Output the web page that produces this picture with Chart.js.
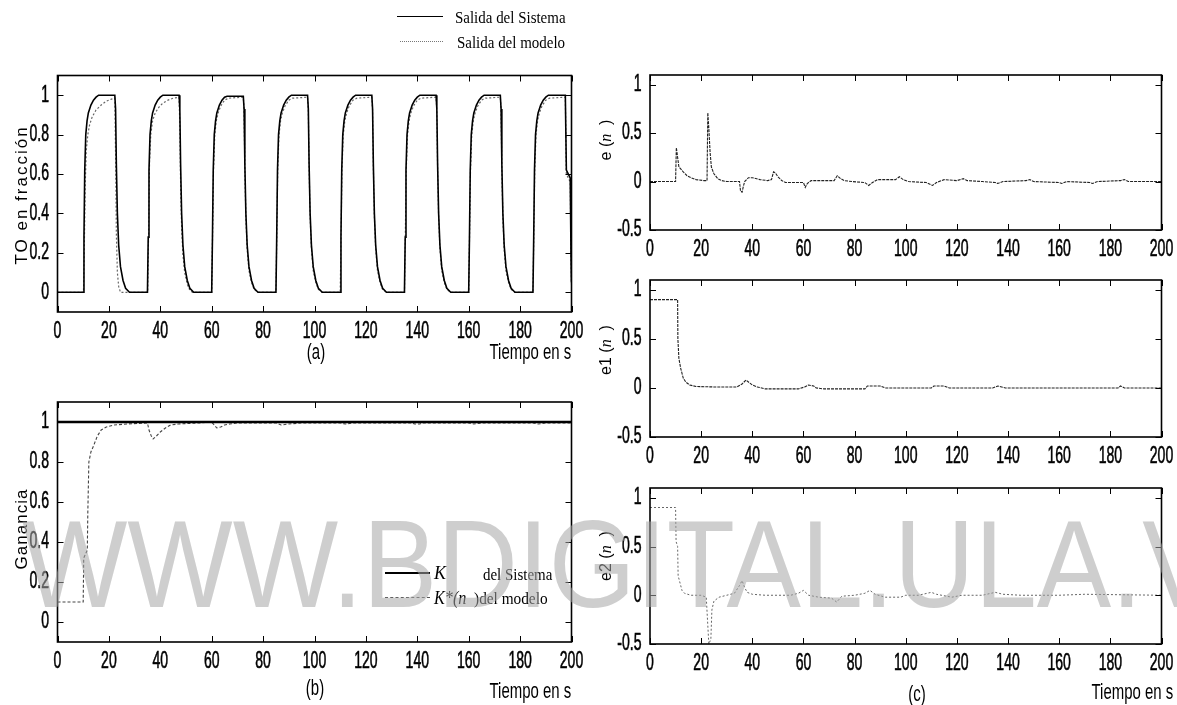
<!DOCTYPE html>
<html>
<head>
<meta charset="utf-8">
<script src="https://cdn.jsdelivr.net/npm/chart.js@4.4.1/dist/chart.umd.min.js"></script>
<style>
body { margin: 0; background: #fff; }
#page { position: relative; width: 1177px; height: 705px; overflow: hidden; background: #fff; font-family: "Liberation Sans", Arial, sans-serif; }
#page canvas { position: absolute; left: 0; top: 0; }
.txt { position: absolute; white-space: nowrap; line-height: 1; color: #000; }
.cap { font-size: 22px; }
.ser { font-family: "Liberation Serif", "Times New Roman", serif; font-size: 17px; }
.ytl { font-size: 17px; }
.etl { font-size: 16px; }
.etl i, .ser i { font-family: "Liberation Serif", "Times New Roman", serif; }
.ln { position: absolute; height: 0; }
#wm { position: absolute; left: 0; top: 0; pointer-events: none; }
</style>
</head>
<body>
<div id="page">
  <canvas id="chA" width="1177" height="705"></canvas>
  <canvas id="chB" width="1177" height="705"></canvas>
  <canvas id="chE" width="1177" height="705"></canvas>
  <canvas id="chE1" width="1177" height="705"></canvas>
  <canvas id="chE2" width="1177" height="705"></canvas>

  <!-- top legend -->
  <div class="ln" style="left:397px;top:16px;width:46px;border-top:1.6px solid #000"></div>
  <div class="txt ser" style="left:455px;top:17px;transform:translateY(-50%) scaleX(0.88);transform-origin:left center">Salida del Sistema</div>
  <div class="ln" style="left:400px;top:41px;width:43px;border-top:1.5px dotted #777"></div>
  <div class="txt ser" style="left:457px;top:42px;transform:translateY(-50%) scaleX(0.88);transform-origin:left center">Salida del modelo</div>

  <!-- axis titles -->
  <div class="txt ytl" style="left:21px;top:195px;letter-spacing:2px;transform:translate(-50%,-50%) rotate(-90deg)">TO en fracción</div>
  <div class="txt ytl" style="left:21px;top:529px;letter-spacing:1px;transform:translate(-50%,-50%) rotate(-90deg)">Ganancia</div>
  <div class="txt etl" style="left:606px;top:140px;transform:translate(-50%,-50%) rotate(-90deg)">e (<i>n</i> &nbsp;)</div>
  <div class="txt etl" style="left:606px;top:350px;transform:translate(-50%,-50%) rotate(-90deg)">e1 (<i>n</i> &nbsp;)</div>
  <div class="txt etl" style="left:606px;top:556px;transform:translate(-50%,-50%) rotate(-90deg)">e2 (<i>n</i> &nbsp;)</div>

  <!-- captions -->
  <div class="txt cap" style="left:316px;top:352px;transform:translate(-50%,-50%) scaleX(0.68)">(a)</div>
  <div class="txt cap" style="right:606px;top:352px;transform:translateY(-50%) scaleX(0.68);transform-origin:right center">Tiempo en s</div>
  <div class="txt cap" style="left:315px;top:688px;transform:translate(-50%,-50%) scaleX(0.68)">(b)</div>
  <div class="txt cap" style="right:606px;top:691px;transform:translateY(-50%) scaleX(0.68);transform-origin:right center">Tiempo en s</div>
  <div class="txt cap" style="left:917px;top:694px;transform:translate(-50%,-50%) scaleX(0.68)">(c)</div>
  <div class="txt cap" style="right:4px;top:692px;transform:translateY(-50%) scaleX(0.68);transform-origin:right center">Tiempo en s</div>

  <!-- legend of (b) -->
  <div class="ln" style="left:385px;top:572px;width:45px;border-top:2.5px solid #000"></div>
  <div class="txt ser" style="left:434px;top:573px;font-size:18px;transform:translateY(-50%)"><i>K</i></div>
  <div class="txt ser" style="left:483px;top:574px;transform:translateY(-50%) scaleX(0.88);transform-origin:left center">del Sistema</div>
  <div class="ln" style="left:385px;top:597px;width:45px;border-top:1.2px dashed #555"></div>
  <div class="txt ser" style="left:434px;top:598px;transform:translateY(-50%) scaleX(0.9);transform-origin:left center"><i style="font-size:18px">K*(n</i> &nbsp;)del modelo</div>

  <svg id="wm" width="1177" height="705"><text x="22" y="607" font-family="Liberation Sans, Arial, sans-serif" font-size="124" fill="rgb(165,165,165)" fill-opacity="0.55" textLength="1269" lengthAdjust="spacingAndGlyphs">WWW.BDIGITAL.ULA.VE</text></svg>
</div>

<script>
const W = 1177, H = 705;

const xTicks = [0, 20, 40, 60, 80, 100, 120, 140, 160, 180, 200];
const outTicks = [0, 0.2, 0.4, 0.6, 0.8, 1];
const errTicks = [-0.5, 0, 0.5, 1];

// (a) salida del sistema  [t, y]
const sysOut = [
  [0,0],[10,0],[10.3,0.28],[10.6,0.62],[11,0.8],[11.5,0.87],[12,0.91],[13,0.95],[14,0.975],[15,0.99],[16,1],
  [22.3,1],[22.6,0.93],[22.9,0.65],[23.3,0.4],[23.8,0.24],[24.5,0.13],[25.5,0.06],[26.5,0.02],[28,0],
  [35,0],[35.3,0.28],[35.6,0.62],[36,0.8],[36.5,0.87],[37,0.91],[38,0.95],[39,0.975],[40,0.99],[41,1],
  [47.3,1],[47.6,0.93],[47.9,0.65],[48.3,0.4],[48.8,0.24],[49.5,0.13],[50.5,0.06],[51.5,0.02],[53,0],
  [60,0],[60.3,0.28],[60.6,0.62],[61,0.8],[61.5,0.87],[62,0.91],[63,0.95],[64,0.975],[65,0.99],[66,0.995],
  [72.3,0.995],[72.6,0.93],[72.9,0.65],[73.3,0.4],[73.8,0.24],[74.5,0.13],[75.5,0.06],[76.5,0.02],[78,0],
  [85,0],[85.3,0.28],[85.6,0.62],[86,0.8],[86.5,0.87],[87,0.91],[88,0.95],[89,0.975],[90,0.99],[91,1],
  [97.3,1],[97.6,0.93],[97.9,0.65],[98.3,0.4],[98.8,0.24],[99.5,0.13],[100.5,0.06],[101.5,0.02],[103,0],
  [110,0],[110.3,0.28],[110.6,0.62],[111,0.8],[111.5,0.87],[112,0.91],[113,0.95],[114,0.975],[115,0.99],[116,1],
  [122.3,1],[122.6,0.93],[122.9,0.65],[123.3,0.4],[123.8,0.24],[124.5,0.13],[125.5,0.06],[126.5,0.02],[128,0],
  [135,0],[135.3,0.28],[135.6,0.62],[136,0.8],[136.5,0.87],[137,0.91],[138,0.95],[139,0.975],[140,0.99],[141,1],
  [147.3,1],[147.6,0.93],[147.9,0.65],[148.3,0.4],[148.8,0.24],[149.5,0.13],[150.5,0.06],[151.5,0.02],[153,0],
  [160,0],[160.3,0.28],[160.6,0.62],[161,0.8],[161.5,0.87],[162,0.91],[163,0.95],[164,0.975],[165,0.99],[166,1],
  [172.3,1],[172.6,0.93],[172.9,0.65],[173.3,0.4],[173.8,0.24],[174.5,0.13],[175.5,0.06],[176.5,0.02],[178,0],
  [185,0],[185.3,0.28],[185.6,0.62],[186,0.8],[186.5,0.87],[187,0.91],[188,0.95],[189,0.975],[190,0.99],[191,1],
  [197.6,1],[198,0.62],[199.5,0.58],[199.8,0.2],[200,0.05]
];

// (a) salida del modelo  [t, y]
const modOut = [
  [0,0],[10.1,0],[10.4,0.2],[10.8,0.55],[11.2,0.72],[11.8,0.8],[12.5,0.85],[13.5,0.89],[15,0.925],[17,0.95],[19,0.97],[21,0.98],
  [22.3,0.985],[22.6,0.7],[22.9,0.3],[23.3,0.1],[23.8,0.03],[24.5,0],
  [35.1,0],[35.4,0.25],[35.8,0.65],[36.3,0.8],[37,0.87],[38,0.91],[39.5,0.94],[41,0.96],[43,0.975],[45,0.985],
  [47.3,0.99],[47.6,0.85],[47.9,0.55],[48.3,0.33],[48.8,0.19],[49.5,0.1],[50.5,0.04],[51.5,0.01],[52.5,0],
  [60,0],[60.3,0.26],[60.7,0.62],[61.2,0.8],[61.8,0.87],[62.5,0.91],[63.5,0.945],[65,0.975],[66.5,0.985],
  [72.3,0.99],[72.6,0.92],[72.9,0.63],[73.3,0.38],[73.8,0.22],[74.5,0.11],[75.5,0.05],[76.5,0.015],[78,0],
  [85,0],[85.3,0.26],[85.7,0.62],[86.2,0.8],[86.8,0.87],[87.5,0.91],[88.5,0.945],[90,0.975],[91.5,0.985],
  [97.3,0.99],[97.6,0.92],[97.9,0.63],[98.3,0.38],[98.8,0.22],[99.5,0.11],[100.5,0.05],[101.5,0.015],[103,0],
  [110,0],[110.3,0.26],[110.7,0.62],[111.2,0.8],[111.8,0.87],[112.5,0.91],[113.5,0.945],[115,0.975],[116.5,0.985],
  [122.3,0.99],[122.6,0.92],[122.9,0.63],[123.3,0.38],[123.8,0.22],[124.5,0.11],[125.5,0.05],[126.5,0.015],[128,0],
  [135,0],[135.3,0.26],[135.7,0.62],[136.2,0.8],[136.8,0.87],[137.5,0.91],[138.5,0.945],[140,0.975],[141.5,0.985],
  [147.3,0.99],[147.6,0.92],[147.9,0.63],[148.3,0.38],[148.8,0.22],[149.5,0.11],[150.5,0.05],[151.5,0.015],[153,0],
  [160,0],[160.3,0.26],[160.7,0.62],[161.2,0.8],[161.8,0.87],[162.5,0.91],[163.5,0.945],[165,0.975],[166.5,0.985],
  [172.3,0.99],[172.6,0.92],[172.9,0.63],[173.3,0.38],[173.8,0.22],[174.5,0.11],[175.5,0.05],[176.5,0.015],[178,0],
  [185,0],[185.3,0.26],[185.7,0.62],[186.2,0.8],[186.8,0.87],[187.5,0.91],[188.5,0.945],[190,0.975],[191.5,0.985],
  [197.6,0.99],[198,0.6],[199.5,0.56],[199.8,0.18],[200,0.04]
];

// (b) ganancia K del sistema y K* del modelo
const gainSys = [[0,1],[200,1]];
const gainMod = [
  [0,0.1],[10,0.1],[10.2,0.32],[11.6,0.36],[11.8,0.55],[12.2,0.8],[13,0.85],[14,0.88],[15.5,0.93],[17,0.96],[19,0.975],
  [22,0.985],[27,0.99],[35,0.995],[35.6,0.96],[36.5,0.93],[37.2,0.915],[38.5,0.93],[40,0.95],[42,0.97],[44,0.985],[47,0.99],
  [55,0.995],[60,1],[61,0.985],[62,0.97],[63.5,0.975],[65,0.985],[67,0.99],[70,0.995],[85,0.995],[87,0.985],[90,0.99],
  [95,0.995],[110,0.995],[112,0.99],[115,0.995],[138,0.995],[139,0.99],[141,0.99],[142,0.995],[160,0.995],[162,0.99],
  [165,0.995],[185,0.995],[187,0.99],[190,0.995],[200,0.995]
];

// (c) errores e, e1, e2
const errE = [
  [0,0],[10,0],[10.3,0.35],[10.8,0.25],[11.3,0.15],[12,0.13],[13,0.1],[14.5,0.06],[16,0.04],[18,0.02],[21,0.01],[22.3,0.01],
  [22.6,0.71],[23,0.55],[23.5,0.3],[24,0.15],[25,0.08],[26.5,0.03],[28,0.01],[30,0],[35,0],[35.4,-0.1],[36,-0.11],[36.5,-0.05],
  [37,0],[38.5,0.04],[40,0.04],[43,0.02],[46,0.01],[47.5,0.02],[48.3,0.1],[49,0.09],[50,0.05],[51.5,0.01],[53,-0.01],[60,-0.01],
  [60.7,-0.06],[61.5,-0.02],[63,0.01],[66,0.01],[72,0.01],[73.2,0.06],[74.5,0.03],[76,0.01],[79,0],[84,-0.01],[85.5,-0.04],
  [87,-0.01],[89,0.02],[96,0.02],[97.5,0.05],[99,0.02],[101,0],[108,-0.01],[110.5,-0.04],[112,-0.01],[115,0.02],[120,0.01],
  [122.5,0.03],[124,0.01],[130,0],[135,-0.01],[136,-0.02],[138,0],[147,0.01],[148.5,0.02],[150,0],[160,-0.01],[161,-0.02],
  [163,0],[172,-0.01],[173,-0.02],[175,0],[184,0.01],[185.5,0.02],[187,0],[200,0]
];
const errE1 = [
  [0,0.9],[10.8,0.9],[10.9,0.5],[11.3,0.3],[12,0.2],[13,0.1],[14,0.06],[15.5,0.03],[18,0.015],[25,0.01],[34,0.01],[36,0.04],
  [37.5,0.08],[38.5,0.06],[40,0.03],[42,0.01],[45,-0.01],[58,-0.01],[60.5,0.01],[62,0.03],[64,0.02],[65,0],[68,-0.01],[84,-0.01],
  [85,0.02],[90,0.02],[92,0],[110,0],[111,0.02],[115,0.02],[117,0],[134,0],[136,0.02],[137.5,0.01],[139,0],[183,0],[184,0.02],
  [185.5,0],[200,0]
];
const errE2 = [
  [0,0.9],[10,0.9],[10.2,0.55],[10.8,0.5],[11,0.2],[11.5,0.15],[12,0.1],[12.5,0.05],[13.5,0.02],[16,0],[20,0],[22,-0.02],
  [23,-0.5],[23.8,-0.45],[24.2,-0.15],[25,-0.06],[27,-0.02],[30,0],[33,0.02],[35,0.1],[36,0.15],[37,0.08],[38,0.03],[40,0.01],
  [45,0],[55,0],[58,0.02],[60,0.05],[62,0],[66,-0.02],[71,-0.03],[73,-0.07],[75,-0.01],[80,0],[84,0.02],[86,0.05],[88,0.01],
  [92,-0.02],[98,-0.02],[100,0],[105,0],[110,0.03],[112,0.01],[118,-0.02],[122,0],[130,0],[135,0.03],[138,0.01],[145,0],
  [160,0],[170,0.01],[200,0]
];

function pts(pairs) {
  return pairs.map(p => ({ x: p[0], y: p[1] }));
}

// MATLAB style box: inward ticks on all four sides, condensed tick labels
function boxAxes(yTicks) {
  return {
    id: 'boxAxes',
    afterDatasetsDraw(chart) {
      const ctx = chart.ctx, a = chart.chartArea;
      const sx = chart.scales.x, sy = chart.scales.y;
      ctx.save();
      ctx.strokeStyle = '#000';
      ctx.lineWidth = 1;
      ctx.beginPath();
      xTicks.forEach(v => {
        const px = Math.round(sx.getPixelForValue(v)) + 0.5;
        ctx.moveTo(px, a.bottom); ctx.lineTo(px, a.bottom - 6);
        ctx.moveTo(px, a.top); ctx.lineTo(px, a.top + 6);
      });
      yTicks.forEach(v => {
        const py = Math.round(sy.getPixelForValue(v)) + 0.5;
        ctx.moveTo(a.left, py); ctx.lineTo(a.left + 6, py);
        ctx.moveTo(a.right, py); ctx.lineTo(a.right - 6, py);
      });
      ctx.stroke();
      ctx.lineWidth = 1.6;
      ctx.strokeRect(a.left, a.top, a.right - a.left, a.bottom - a.top);

      ctx.fillStyle = '#000';
      ctx.strokeStyle = '#000';
      ctx.lineWidth = 0.6;
      ctx.font = '23px "Liberation Sans", Arial, sans-serif';
      ctx.textBaseline = 'middle';
      xTicks.forEach(v => {
        ctx.save();
        ctx.translate(sx.getPixelForValue(v), a.bottom + 20);
        ctx.scale(0.61, 1);
        ctx.textAlign = 'center';
        ctx.fillText(String(v), 0, 0);
        ctx.strokeText(String(v), 0, 0);
        ctx.restore();
      });
      yTicks.forEach(v => {
        ctx.save();
        ctx.translate(a.left - 8.5, sy.getPixelForValue(v));
        ctx.scale(0.61, 1);
        ctx.textAlign = 'right';
        ctx.fillText(String(v), 0, 0);
        ctx.strokeText(String(v), 0, 0);
        ctx.restore();
      });
      ctx.restore();
    }
  };
}

function makeChart(id, box, yMin, yMax, yTicks, datasets) {
  return new Chart(document.getElementById(id), {
    type: 'line',
    data: { datasets: datasets },
    options: {
      responsive: false,
      animation: false,
      events: [],
      layout: { padding: { left: box[0], top: box[1], right: W - box[2], bottom: H - box[3] } },
      plugins: { legend: { display: false }, tooltip: { enabled: false } },
      scales: {
        x: { type: 'linear', min: 0, max: 200, display: false },
        y: { type: 'linear', min: yMin, max: yMax, display: false }
      },
      elements: { point: { radius: 0 }, line: { tension: 0 } }
    },
    plugins: [boxAxes(yTicks)]
  });
}

makeChart('chA', [57.5, 75.5, 571.5, 312], -0.1, 1.1, outTicks, [
  { data: pts(sysOut), borderColor: '#000', borderWidth: 1.6, fill: false },
  { data: pts(modOut), borderColor: '#666', borderWidth: 1.2, borderDash: [2, 2], fill: false }
]);

makeChart('chB', [57.5, 402, 571.5, 642], -0.1, 1.1, outTicks, [
  { data: pts(gainSys), borderColor: '#000', borderWidth: 2.5, fill: false },
  { data: pts(gainMod), borderColor: '#444', borderWidth: 1.1, borderDash: [3, 2], fill: false }
]);

makeChart('chE', [650, 75, 1161.5, 230], -0.5, 1.1, errTicks, [
  { data: pts(errE), borderColor: '#222', borderWidth: 1.1, borderDash: [3, 1], fill: false }
]);

makeChart('chE1', [650, 280, 1161.5, 437], -0.5, 1.1, errTicks, [
  { data: pts(errE1), borderColor: '#222', borderWidth: 1.1, borderDash: [3, 1], fill: false }
]);

makeChart('chE2', [650, 488, 1161.5, 644], -0.5, 1.1, errTicks, [
  { data: pts(errE2), borderColor: '#666', borderWidth: 1, borderDash: [2, 2], fill: false }
]);
</script>
</body>
</html>
